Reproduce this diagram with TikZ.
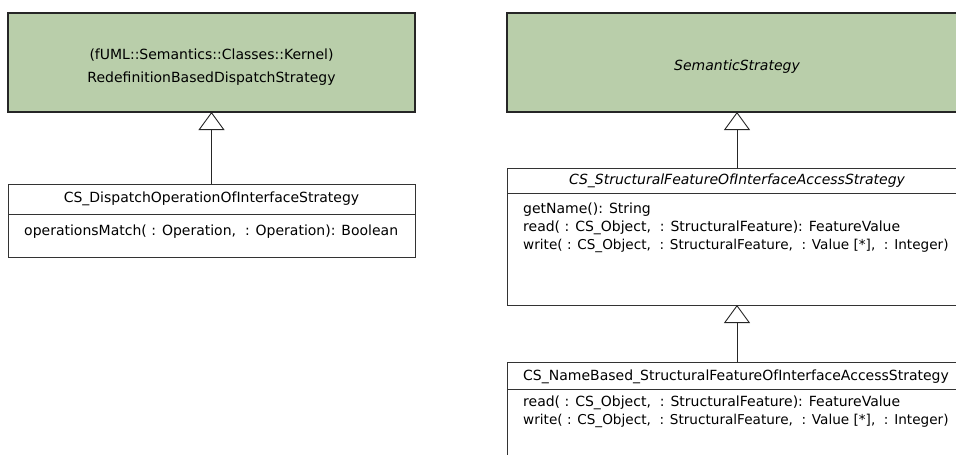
\documentclass[tikz,border=0pt]{standalone}
\usepackage{fontspec}
\setmainfont{DejaVu Sans}
\usetikzlibrary{positioning,arrows.meta}
\definecolor{stratgreen}{RGB}{185,206,170}
\tikzset{
  greenbox/.style={draw=black!85, fill=stratgreen, line width=1.2pt, anchor=north west,
    inner sep=0pt, outer sep=0pt},
  greentext/.style={align=center, yshift=-5pt},
  namebox/.style={draw=black!80, fill=white, line width=0.9pt, anchor=north west,
    inner sep=0pt, outer sep=0pt},
  optext/.style={anchor=west, inner sep=0pt},
  longop/.style={optext, font=\fontsize{13.6}{19}\selectfont},
  inherit/.style={-{Triangle[open, length=18pt, width=26pt, line width=0.9pt]},
    draw=black!85, line width=0.9pt}
}
\begin{document}
\begin{tikzpicture}[x=1pt, y=-1pt, font=\fontsize{14}{19}\selectfont]
  \useasboundingbox (0,0) rectangle (956,455);
  \clip (0,0) rectangle (956,455);
  % left column
  \node [greenbox, minimum width=407pt, minimum height=99pt,
    label={[greentext]center:(fUML::Semantics::Classes::Kernel)\\[4pt]RedefinitionBasedDispatchStrategy}]
    (kernel) at (8,13) {};
  \node [namebox, minimum width=407pt, minimum height=30pt] (dispatch) at (8,184)
    {CS\_DispatchOperationOfInterfaceStrategy};
  \node [namebox, minimum width=407pt, minimum height=43pt, below=0pt of dispatch] (dispatchops) {};
  \node [optext] (match) at (24,232) {operationsMatch( : Operation,\ \ : Operation): Boolean};
  \draw [inherit] (dispatch) -- (kernel);
  % right column
  \node [greenbox, minimum width=460pt, minimum height=99pt,
    label={[greentext, yshift=1pt]center:\itshape SemanticStrategy}] (semantic) at (507,13) {};
  \node [namebox, minimum width=460pt, minimum height=25pt] (access) at (507,168)
    {\itshape CS\_StructuralFeatureOfInterfaceAccessStrategy};
  \node [namebox, minimum width=460pt, minimum height=112pt, below=0pt of access] (accessops) {};
  \node [optext] (getname) at (523,210) {getName(): String};
  \node [optext] (read) at (523,228) {read( : CS\_Object,\ \ : StructuralFeature): FeatureValue};
  \node [longop] (write) at (523,246)
    {write( : CS\_Object,\ \ : StructuralFeature,\ \ : Value [*],\ \ : Integer)};
  \draw [inherit] (access) -- (semantic);
  \node [namebox, minimum width=460pt, minimum height=27pt] (namebased) at (507,362) {};
  \node [namebox, minimum width=460pt, minimum height=70pt, below=0pt of namebased] (namebasedops) {};
  \node [optext] (nbname) at (523,377) {CS\_NameBased\_StructuralFeatureOfInterfaceAccessStrategy};
  \node [optext] (nbread) at (523,403) {read( : CS\_Object,\ \ : StructuralFeature): FeatureValue};
  \node [longop] (nbwrite) at (523,421)
    {write( : CS\_Object,\ \ : StructuralFeature,\ \ : Value [*],\ \ : Integer)};
  \draw [inherit] (namebased) -- (accessops);
\end{tikzpicture}
\end{document}
